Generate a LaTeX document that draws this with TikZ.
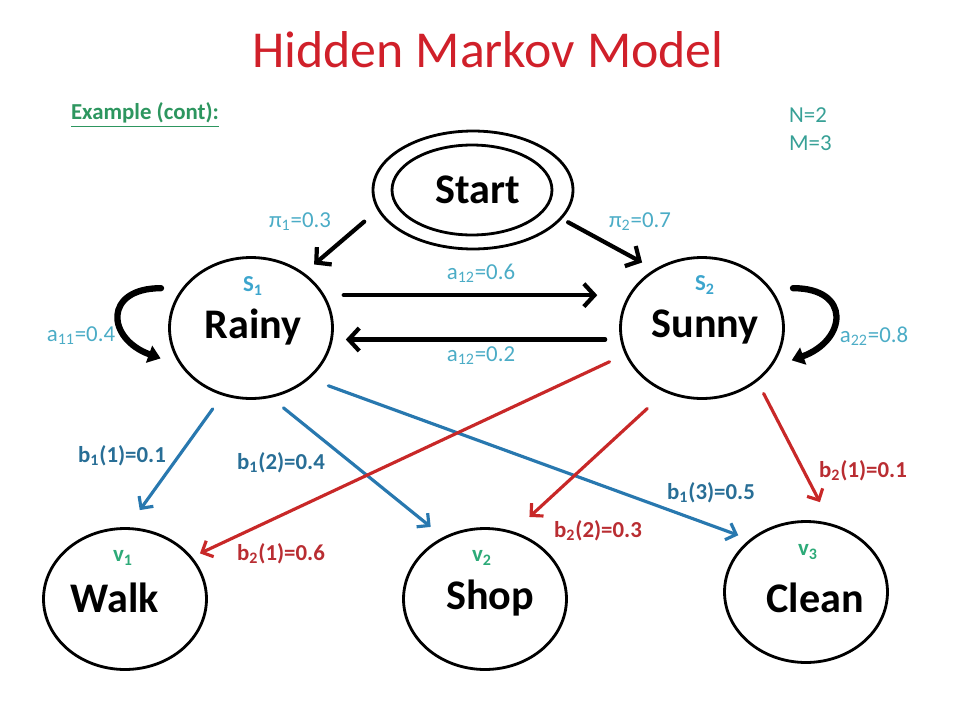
\documentclass[tikz,border=0pt]{standalone}
\usepackage{fontspec}
\setmainfont{Carlito}
\usetikzlibrary{shapes.geometric,arrows.meta}
\definecolor{titlered}{RGB}{208,32,42}
\definecolor{exgreen}{RGB}{45,150,95}
\definecolor{nmteal}{RGB}{55,160,150}
\definecolor{probcyan}{RGB}{75,172,198}
\definecolor{scyan}{RGB}{60,165,205}
\definecolor{vgreen}{RGB}{45,170,120}
\definecolor{bonetext}{RGB}{40,110,150}
\definecolor{btwotext}{RGB}{185,45,50}
\definecolor{arrblue}{RGB}{40,120,175}
\definecolor{arrred}{RGB}{200,40,40}
\begin{document}
\begin{tikzpicture}[x=0.02cm, y=-0.02cm, line join=round, line cap=round,
    state/.style={draw, ellipse, line width=1.6pt, minimum width=3.26cm, minimum height=2.82cm, inner sep=0pt},
    statename/.style={font=\fontsize{24}{28}\selectfont\bfseries},
    tag/.style={font=\fontsize{13}{15}\selectfont\bfseries},
    prob/.style={text=probcyan, font=\fontsize{13}{15}\selectfont},
    emit/.style={font=\fontsize{13}{15}\selectfont\bfseries},
    trans/.style={line width=2.4pt, -{Straight Barb[length=6pt,width=13pt]}},
    selfloop/.style={line width=3.6pt, -{Triangle[length=7pt,width=10pt]}},
    bluearr/.style={draw=arrblue, line width=1.8pt, -{Straight Barb[length=5pt,width=10pt]}},
    redarr/.style={draw=arrred, line width=1.8pt, -{Straight Barb[length=5pt,width=10pt]}}]
  \useasboundingbox (0,0) rectangle (960,720);
  % Titel
  \node[font=\fontsize{29.5}{34}\selectfont, text=titlered] (title) at (488,50) {Hidden Markov Model};
  \node[font=\fontsize{13}{15}\selectfont\bfseries, text=exgreen] (example) at (145,115) {\underline{Example (cont):}};
  \node[anchor=west, text=nmteal, font=\fontsize{13}{15}\selectfont] (nval) at (783,115) {N=2};
  \node[anchor=west, text=nmteal, font=\fontsize{13}{15}\selectfont] (mval) at (783,143) {M=3};
  % Zustaende
  \node[state, minimum width=4cm, minimum height=2.36cm] (start) at (473,190) {};
  \node[state, minimum width=3.2cm, minimum height=1.8cm] (startin) at (472,190) {};
  \node[statename] (starttext) at (478,190) {Start};
  \node[state] (rainy) at (251,328) {};
  \node[state] (sunny) at (702,328) {};
  \node[statename] (rainytext) at (253,327) {Rainy};
  \node[statename] (sunnytext) at (705,327) {Sunny};
  \node[tag, text=scyan] (sone) at (253,286) {S\textsubscript{1}};
  \node[tag, text=scyan] (stwo) at (705,285) {S\textsubscript{2}};
  % Beobachtungen
  \node[state] (walk) at (125,599) {};
  \node[state] (shop) at (485,599) {};
  \node[state] (clean) at (806,592) {};
  \node[statename] (walktext) at (115,598) {Walk};
  \node[statename] (shoptext) at (490,598) {Shop};
  \node[statename] (cleantext) at (815,598) {Clean};
  \node[tag, text=vgreen] (vone) at (123,558) {v\textsubscript{1}};
  \node[tag, text=vgreen] (vtwo) at (482,558) {v\textsubscript{2}};
  \node[tag, text=vgreen] (vthree) at (808,552) {v\textsubscript{3}};
  % Uebergaenge
  \draw[trans, shorten <=0.35cm, shorten >=0.26cm] (start.192) -- (rainy.46);
  \draw[trans, shorten <=0.14cm, shorten >=0.28cm] (start.342) -- (sunny.129);
  \draw[trans, shorten <=0.38cm, shorten >=0.62cm] (rainy.24) -- (sunny.156);
  \draw[trans, shorten <=0.30cm, shorten >=0.26cm] (sunny.188) -- (rainy.352);
  \draw[selfloop, shorten <=0.42cm, shorten >=0.42cm] (rainy.150) to[out=180, in=160, looseness=2.6] (rainy.208);
  \draw[selfloop, shorten <=0.44cm, shorten >=0.44cm] (sunny.30) to[out=0, in=20, looseness=2.6] (sunny.330);
  \node[prob] (pione) at (300,222) {π\textsubscript{1}=0.3};
  \node[prob] (pitwo) at (640,222) {π\textsubscript{2}=0.7};
  \node[prob] (aonetwo) at (481,273) {a\textsubscript{12}=0.6};
  \node[prob] (atwoone) at (481,356) {a\textsubscript{12}=0.2};
  \node[prob] (aoneone) at (81,336) {a\textsubscript{11}=0.4};
  \node[prob] (atwotwo) at (874,336) {a\textsubscript{22}=0.8};
  % Emissionen
  \draw[bluearr, shorten <=0.33cm, shorten >=0.42cm] (rainy.247) -- (walk.88);
  \draw[bluearr, shorten <=0.32cm, shorten >=0.32cm] (rainy.286) -- (shop.124);
  \draw[bluearr, shorten <=0.40cm, shorten >=0.24cm] (rainy.319) -- (clean.137);
  \draw[redarr, shorten <=0.34cm, shorten >=0.17cm] (sunny.199) -- (walk.32);
  \draw[redarr, shorten <=0.48cm, shorten >=0.43cm] (sunny.240) -- (shop.67);
  \draw[redarr, shorten <=0.27cm, shorten >=0.48cm] (sunny.316) -- (clean.70);
  \node[emit, text=bonetext] (bone) at (122,456) {b\textsubscript{1}(1)=0.1};
  \node[emit, text=bonetext] (btwo) at (281,463) {b\textsubscript{1}(2)=0.4};
  \node[emit, text=bonetext] (bthree) at (711,493) {b\textsubscript{1}(3)=0.5};
  \node[emit, text=btwotext] (cone) at (281,554) {b\textsubscript{2}(1)=0.6};
  \node[emit, text=btwotext] (ctwo) at (598,531) {b\textsubscript{2}(2)=0.3};
  \node[emit, text=btwotext] (cthree) at (863,471) {b\textsubscript{2}(1)=0.1};
\end{tikzpicture}
\end{document}
